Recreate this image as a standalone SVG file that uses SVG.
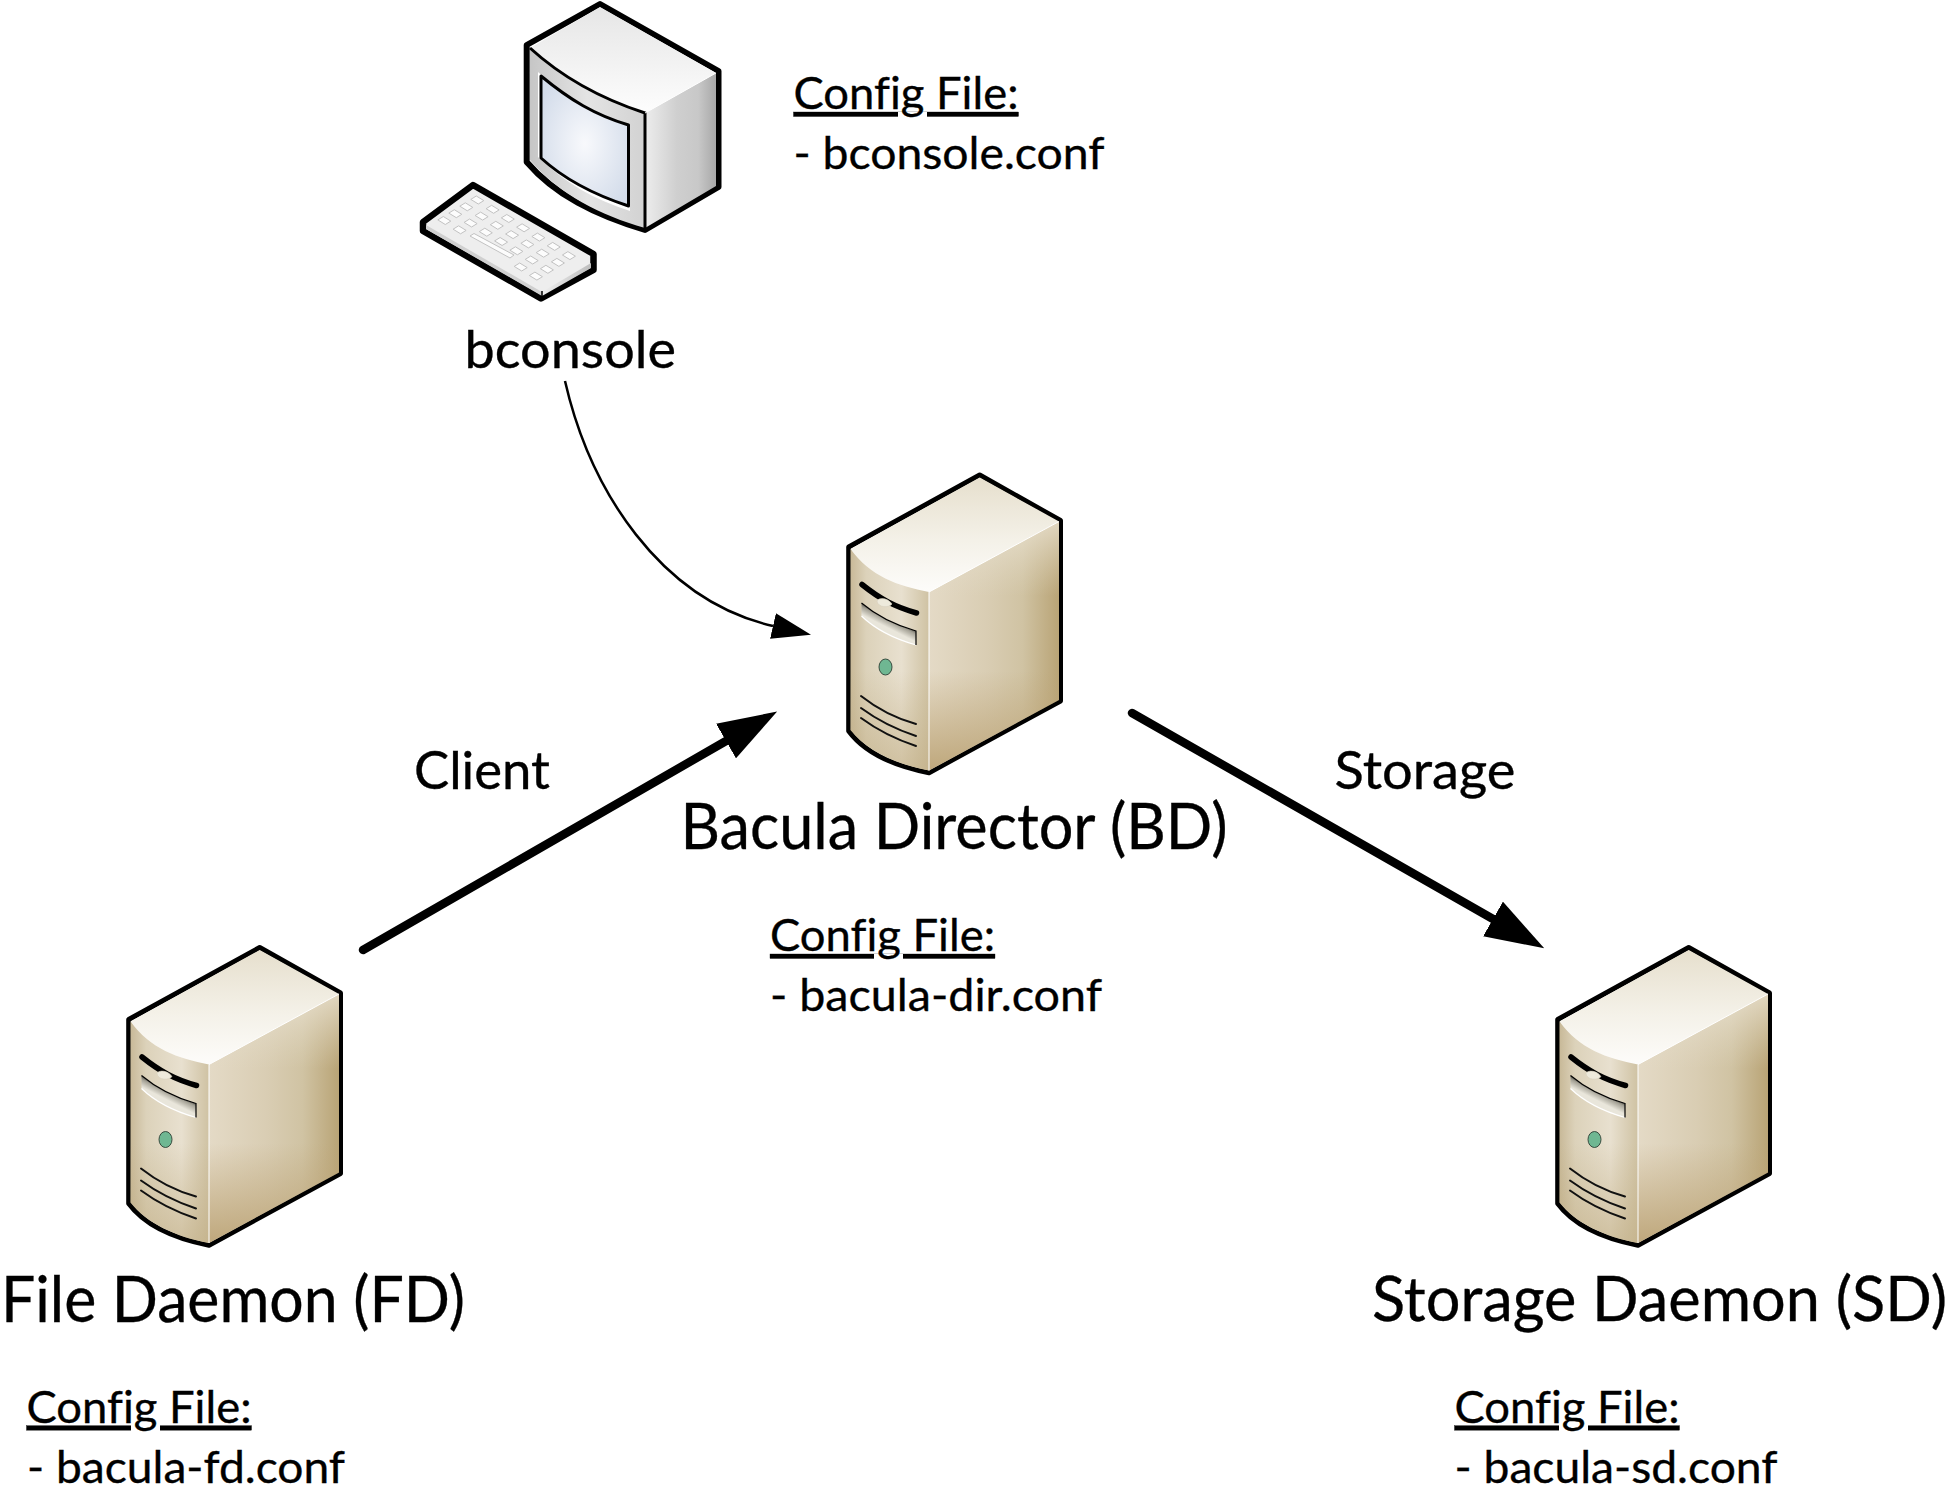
<svg xmlns="http://www.w3.org/2000/svg" xmlns:xlink="http://www.w3.org/1999/xlink" width="1953" height="1497" viewBox="0 0 1953 1497">
<style>
text{font-family:Lato,"Open Sans","Liberation Sans",sans-serif;fill:#000;stroke:#000;stroke-width:.35;font-variant-ligatures:none}
.big{font-size:64px}
.bigs{font-size:61px}
.mid{font-size:52px}
.cfg{font-size:45px}
.u{text-decoration:underline;text-decoration-skip-ink:none}
.ol{stroke:#000;stroke-linejoin:round;stroke-linecap:round}
.vent{fill:none;stroke:#111;stroke-width:2;stroke-linecap:round}
.key{fill:#fcfcfc;stroke:#c2c2c2;stroke-width:1}
</style>
<defs>
<linearGradient id="sTop" x1="0" y1="0" x2="0" y2="1"><stop offset="0" stop-color="#e6dfcd"/><stop offset=".55" stop-color="#f4f1e8"/><stop offset="1" stop-color="#fdfcfa"/></linearGradient>
<linearGradient id="sFront" x1="0" y1="0" x2="1" y2="0"><stop offset="0" stop-color="#c8b998"/><stop offset=".2" stop-color="#dcd2ba"/><stop offset=".65" stop-color="#e8e0cf"/><stop offset="1" stop-color="#cfc2a3"/></linearGradient>
<linearGradient id="sFrontV" x1="0" y1="0" x2="0" y2="1"><stop offset="0" stop-color="#bfab80" stop-opacity="0"/><stop offset=".55" stop-color="#bfab80" stop-opacity="0"/><stop offset="1" stop-color="#bfab80" stop-opacity=".6"/></linearGradient>
<linearGradient id="sRight" x1="0" y1="0" x2="1" y2="0"><stop offset="0" stop-color="#e4dac6"/><stop offset=".45" stop-color="#d9cdb3"/><stop offset=".72" stop-color="#d0c3a3"/><stop offset="1" stop-color="#b9a476"/></linearGradient>
<linearGradient id="sRightV" x1="0" y1="0" x2="0" y2="1"><stop offset="0" stop-color="#f2ecdf" stop-opacity=".7"/><stop offset=".3" stop-color="#e6dfcc" stop-opacity="0"/><stop offset=".6" stop-color="#bda578" stop-opacity="0"/><stop offset="1" stop-color="#bda578" stop-opacity=".95"/></linearGradient>
<linearGradient id="sBay" gradientUnits="userSpaceOnUse" x1="60" y1="155" x2="54.800" y2="165.300"><stop offset="0" stop-color="#3e3c36"/><stop offset=".4" stop-color="#a5a296"/><stop offset="1" stop-color="#e9e6db"/></linearGradient>
<linearGradient id="mTop" x1="0" y1="0" x2="0" y2="1"><stop offset="0" stop-color="#e6e6e6"/><stop offset="1" stop-color="#fdfdfd"/></linearGradient>
<linearGradient id="mRight" x1="0" y1="0" x2="1" y2="0"><stop offset="0" stop-color="#ededed"/><stop offset=".45" stop-color="#cfcfcf"/><stop offset=".75" stop-color="#c8c8c8"/><stop offset="1" stop-color="#a8a8a8"/></linearGradient>
<linearGradient id="mFront" x1="0" y1="0" x2="1" y2="0"><stop offset="0" stop-color="#c6c6c6"/><stop offset=".5" stop-color="#e4e4e4"/><stop offset="1" stop-color="#d2d2d2"/></linearGradient>
<radialGradient id="mScreen" cx=".5" cy=".52" r=".6"><stop offset="0" stop-color="#f8f9fc"/><stop offset="1" stop-color="#d3dcea"/></radialGradient>
<linearGradient id="kSide" x1="0" y1="0" x2="1" y2="0"><stop offset="0" stop-color="#f0f0f0"/><stop offset="1" stop-color="#bdbdbd"/></linearGradient>
<path id="k" class="key" d="M-6.500-.6 -1-4 6.500 .6 1 4Z"/>
<marker id="ah" markerUnits="userSpaceOnUse" markerWidth="40" markerHeight="26" refX="0" refY="13" orient="auto"><path d="M0 0 39 13 0 26Z" fill="#000"/></marker>
<marker id="ahBig" markerUnits="userSpaceOnUse" markerWidth="60" markerHeight="40" refX="0" refY="20" orient="auto"><path d="M0 0 59 20 0 40Z" fill="#000"/></marker>
<g id="server">
<path d="M149.700 14 230.500 59.500V240L99 311.700C65 305 35 292 18.700 270V86Z" fill="#fff" class="ol" stroke-width="5"/>
<path d="M20.500 88C40 115 68 125 99 131L229 60.500 149.700 16.500Z" fill="url(#sTop)"/>
<path d="M20.500 88C40 115 68 125 99 131V309.500C65 303 37 290 20.500 269Z" fill="url(#sFront)"/>
<path d="M20.500 88C40 115 68 125 99 131V309.500C65 303 37 290 20.500 269Z" fill="url(#sFrontV)"/>
<path d="M99 131 229 60.500V239L99 309.500Z" fill="url(#sRight)"/>
<path d="M99 131 229 60.500V239L99 309.500Z" fill="url(#sRightV)"/>
<path d="M99 131 229 60.500M99 131V309.500" fill="none" stroke="#fff" stroke-width="1"/>
<path d="M32 123.500C50 138 65 146 86.500 152" fill="none" stroke="#000" stroke-width="5.500" stroke-linecap="round"/>
<path d="M47 140C49 136 58 137 62 143C59 147 48 147 47 140Z" fill="#eeeadc" stroke="#d6d0bd" stroke-width=".6"/>
<path d="M31.500 142C48 156 65 164 86 170V184C65 178 45 168 31.500 155Z" fill="url(#sBay)"/>
<path d="M31.500 155C45 168 65 178 86 184" fill="none" stroke="#fff" stroke-width="1.200"/>
<path d="M31.500 142C48 156 65 164 86 170V184" fill="none" stroke="#000" stroke-width="1.200"/>
<ellipse cx="55.500" cy="206" rx="6.500" ry="8" fill="#6fb792" stroke="#2f3f36" stroke-width=".9"/>
<path class="vent" d="M31 235C50 250 68 258 86 263M31 247C50 261 68 269 86 275M31 257C50 271 68 279 86 285"/>
</g>
</defs>
<g id="connectors" fill="none" stroke="#000">
<path id="c-console" d="M565 381C590 490 660 600 773 626" stroke-width="2.500" marker-end="url(#ah)"/>
<path id="c-client" d="M363 950 726 741" stroke-width="8.500" stroke-linecap="round" marker-end="url(#ahBig)"/>
<path id="c-storage" d="M1132 713 1493 919" stroke-width="8.500" stroke-linecap="round" marker-end="url(#ahBig)"/>
</g>
<g id="node-bconsole">
<g transform="translate(400 0)">
<path d="M200 4 318.500 71V187L245 230C195 215 155 195 126.700 162V45Z" fill="#fff" class="ol" stroke-width="6"/>
<path d="M130 48C165 80 205 100 245 113L316 73 200 7Z" fill="url(#mTop)"/>
<path d="M245 113 316 73V186L245 228Z" fill="url(#mRight)"/>
<path d="M130 48C165 80 205 100 245 113V228C200 215 160 195 130 160Z" fill="url(#mFront)"/>
<path d="M130 48C165 80 205 100 245 113V230" fill="none" stroke="#000" stroke-width="3"/>
<path d="M245 113 316 73" fill="none" stroke="#fff" stroke-width="1"/>
<path d="M138 72C170 100 195 115 230 125V211C195 200 165 183 138 157Z" fill="#fff"/>
<path d="M141 76C170 100 195 115 228.500 125V206C195 195 165 180 141 158Z" fill="url(#mScreen)" stroke="#000" stroke-width="3" stroke-linejoin="round"/>
<path d="M73 185 193.500 254V270L141 298.500 23 231V222Z" fill="#eeeeee" class="ol" stroke-width="6.500"/>
<path d="M26 225 142 292V296L26 229Z" fill="#d0d0d0"/>
<path d="M142 292 191 263V268L142 296Z" fill="url(#kSide)"/>
<path d="M142 291V298" stroke="#000" stroke-width="1.500"/>
<use xlink:href="#k" href="#k" transform="translate(77.300 200)"/>
<use xlink:href="#k" href="#k" transform="translate(92.600 209.300)"/>
<use xlink:href="#k" href="#k" transform="translate(107.800 218.500)"/>
<use xlink:href="#k" href="#k" transform="translate(123.100 227.800)"/>
<use xlink:href="#k" href="#k" transform="translate(138.400 237.100)"/>
<use xlink:href="#k" href="#k" transform="translate(153.700 246.400)"/>
<use xlink:href="#k" href="#k" transform="translate(168.900 255.600)"/>
<use xlink:href="#k" href="#k" transform="translate(66.300 206.800)"/>
<use xlink:href="#k" href="#k" transform="translate(81.600 216.100)"/>
<use xlink:href="#k" href="#k" transform="translate(96.800 225.300)"/>
<use xlink:href="#k" href="#k" transform="translate(112.100 234.600)"/>
<use xlink:href="#k" href="#k" transform="translate(127.400 243.900)"/>
<use xlink:href="#k" href="#k" transform="translate(142.700 253.200)"/>
<use xlink:href="#k" href="#k" transform="translate(157.900 262.400)"/>
<use xlink:href="#k" href="#k" transform="translate(55.300 213.700)"/>
<use xlink:href="#k" href="#k" transform="translate(70.600 223)"/>
<use xlink:href="#k" href="#k" transform="translate(85.800 232.200)"/>
<use xlink:href="#k" href="#k" transform="translate(101.100 241.500)"/>
<use xlink:href="#k" href="#k" transform="translate(116.400 250.800)"/>
<use xlink:href="#k" href="#k" transform="translate(131.700 260)"/>
<use xlink:href="#k" href="#k" transform="translate(146.900 269.300)"/>
<use xlink:href="#k" href="#k" transform="translate(44.300 220.500)"/>
<use xlink:href="#k" href="#k" transform="translate(59.600 229.800)"/>
<use xlink:href="#k" href="#k" transform="translate(120.700 267)"/>
<use xlink:href="#k" href="#k" transform="translate(135.900 276.100)"/>
<path class="key" d="M70 236 74 233.500 114 255 110 258Z"/>
</g>
<text class="mid" x="464.500" y="368" textLength="211.500" lengthAdjust="spacingAndGlyphs">bconsole</text>
<text class="cfg u" x="793.500" y="109" textLength="225" lengthAdjust="spacingAndGlyphs">Config File:</text>
<text class="cfg" x="793.500" y="169" textLength="311" lengthAdjust="spacingAndGlyphs">- bconsole.conf</text>
</g>
<g id="node-bd">
<use xlink:href="#server" href="#server" x="830" y="461"/>
<text class="big" x="680.500" y="849" textLength="547" lengthAdjust="spacingAndGlyphs">Bacula Director (BD)</text>
<text class="cfg u" x="770" y="951" textLength="225" lengthAdjust="spacingAndGlyphs">Config File:</text>
<text class="cfg" x="770" y="1011" textLength="332" lengthAdjust="spacingAndGlyphs">- bacula-dir.conf</text>
</g>
<g id="node-fd">
<use xlink:href="#server" href="#server" x="110" y="933.500"/>
<text class="big" x="1" y="1321.500" textLength="464" lengthAdjust="spacingAndGlyphs">File Daemon (FD)</text>
<text class="cfg u" x="26.500" y="1422.700" textLength="225" lengthAdjust="spacingAndGlyphs">Config File:</text>
<text class="cfg" x="27" y="1482.500" textLength="318" lengthAdjust="spacingAndGlyphs">- bacula-fd.conf</text>
</g>
<g id="node-sd">
<use xlink:href="#server" href="#server" x="1539" y="933.500"/>
<text class="bigs" x="1372" y="1320.500" textLength="575" lengthAdjust="spacingAndGlyphs">Storage Daemon (SD)</text>
<text class="cfg u" x="1454.500" y="1422.700" textLength="225" lengthAdjust="spacingAndGlyphs">Config File:</text>
<text class="cfg" x="1454.500" y="1482.500" textLength="323" lengthAdjust="spacingAndGlyphs">- bacula-sd.conf</text>
</g>
<g id="edge-labels">
<text class="mid" x="414" y="789" textLength="136" lengthAdjust="spacingAndGlyphs">Client</text>
<text class="mid" x="1334.500" y="789" textLength="181" lengthAdjust="spacingAndGlyphs">Storage</text>
</g>
</svg>
